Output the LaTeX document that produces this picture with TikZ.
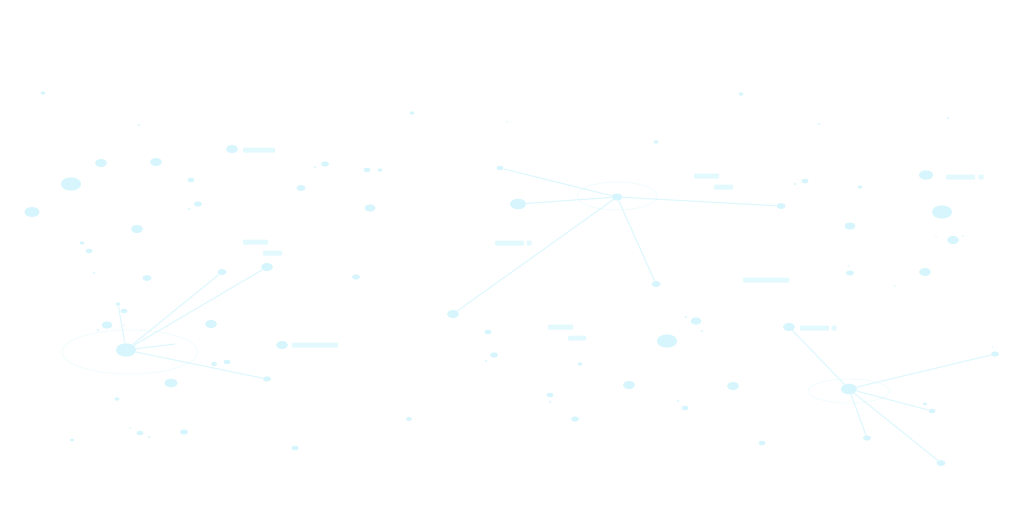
\documentclass[tikz,border=0pt]{standalone}
\usetikzlibrary{shapes.geometric}
\definecolor{dotcol}{RGB}{214,245,252}
\definecolor{linecol}{RGB}{224,248,253}
\definecolor{barcol}{RGB}{226,249,253}
\definecolor{ringcol}{RGB}{242,252,254}
\tikzset{
  dot/.style={ellipse,fill=dotcol,inner sep=0pt,minimum width=#1,minimum height=#1/1.5},
  spoke/.style={draw=linecol,line width=1.2pt},
  bar/.style={fill=barcol,rounded corners=1pt},
  ring/.style={draw=ringcol,line width=1pt}
}
\begin{document}
\begin{tikzpicture}[x=1pt,y=-1pt]
\useasboundingbox (0,0) rectangle (1024,512);
% faint rings round the hubs
\draw[ring] (130,352) ellipse [x radius=68,y radius=22];
\draw[ring] (617,196) ellipse [x radius=40,y radius=14];
\draw[ring] (849,391) ellipse [x radius=41,y radius=12];
% label bars
\foreach \xa/\xb/\y in {243/275/150, 243/268/242, 263/282/253, 292/338/345, 694/719/176, 714/733/187, 495/524/243, 526.5/531.5/243, 743/789/280, 946/975/177, 978.5/983.5/177, 800/829/328, 831.5/836.5/328, 548/573/327, 568/586/338}
  { \fill[bar] (\xa,\y-2.5) rectangle (\xb,\y+2.5); }
% loose dots
\foreach \x/\y/\d [count=\i] in {43/93/5, 139/125/3, 412/113/5, 507/122/2, 656/142/5, 741/94/5, 819/124/3, 948/118/3,
  101/163/12, 156/162/12, 71/184/20, 32/212/15, 191/180/7, 198/204/8, 189/209/3, 137/229/12, 82/243/5, 89/251/7, 94/273/3, 147/278/9,
  301/188/9, 325/164/8, 315/167/3, 367/170/7, 380/170/5, 370/208/11, 356/277/8, 232/149/12, 282/345/12,
  124/311/7, 107/325/11, 98/330/3, 124/325/2, 211/324/12, 214/364/6, 227/362/7, 171/383/13, 117/399/5, 140/433/7, 130/428/2,
  149/437/3, 184/432/8, 72/440/4, 295/448/7, 409/419/6,
  488/332/7, 494/355/8, 486/361/3, 580/364/5, 696/321/11, 686/317/3, 702/331/3, 667/341/20, 629/385/12, 733/386/12,
  550/395/7, 550/402/3, 678/401/3, 685/408/7, 575/419/8, 762/443/7,
  805/181/7, 795/184/3, 860/187/5, 926/175/14, 942/212/20, 850/226/11, 953/240/12, 936/237/2, 963/236/2, 850/273/8,
  849/266/2, 925/272/12, 895/286/2, 925/404/4, 993/347/2}
  { \node[dot=\d] (p\i) at (\x,\y) {}; }
% hub A
\node[dot=20] (hubA) at (126,350) {};
\node[dot=5] (a1) at (118,304) {}; \node[dot=9] (a2) at (222,272) {}; \node[dot=12] (a3) at (267,267) {};
\coordinate (a4) at (175,344); \node[dot=8] (a5) at (267,379) {};
\foreach \n in {a1,a2,a3,a4,a5} { \draw[spoke] (hubA) -- (\n); }
% hub B
\node[dot=11] (hubB) at (617,197) {};
\node[dot=7] (b1) at (500,168) {}; \node[dot=16] (b2) at (518,204) {}; \node[dot=9] (b3) at (781,206) {};
\node[dot=9] (b4) at (656,284) {}; \node[dot=12] (b5) at (453,314) {};
\foreach \n in {b1,b2,b3,b4,b5} { \draw[spoke] (hubB) -- (\n); }
% hub C
\node[dot=16] (hubC) at (849,389) {};
\node[dot=12] (c1) at (789,327) {}; \node[dot=8] (c2) at (995,354) {}; \node[dot=7] (c3) at (932,411) {};
\node[dot=8] (c4) at (867,438) {}; \node[dot=9] (c5) at (941,463) {};
\foreach \n in {c1,c2,c3,c4,c5} { \draw[spoke] (hubC) -- (\n); }
\end{tikzpicture}
\end{document}
